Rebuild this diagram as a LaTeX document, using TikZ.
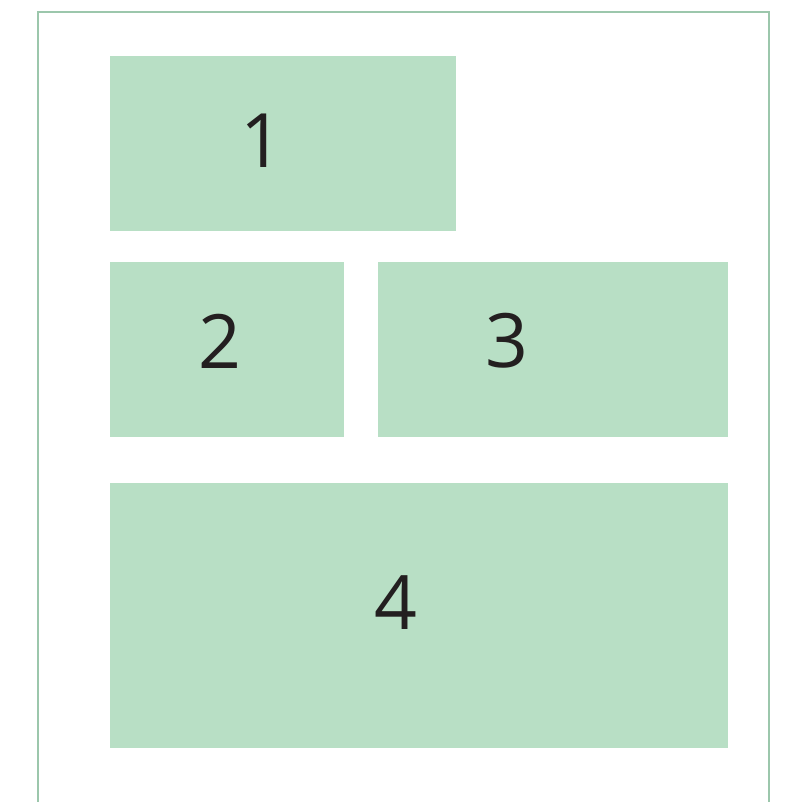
\documentclass[tikz,border=0pt]{standalone}
\usepackage{fontspec}
\setmainfont{Open Sans}
\usetikzlibrary{positioning}

\definecolor{panelgreen}{HTML}{B8DFC5}
\definecolor{framegreen}{HTML}{9CC7AC}
\definecolor{digitgray}{HTML}{231F20}

\begin{document}
\begin{tikzpicture}[
    x=1pt, y=-1pt,
    % Styling for the layout panels
    panel/.style={rectangle, anchor=north west, inner sep=0pt, fill=panelgreen, draw=none},
    digit/.style={text=digitgray, inner sep=0pt, font=\fontsize{75}{80}\selectfont},
    frame/.style={draw=framegreen, line width=2.5pt}
]
    \useasboundingbox (0,0) rectangle (798,802);

    % Outer frame, open at the bottom
    \draw[frame] (38,805) -- (38,12) -- (769,12) -- (769,805);

    % Panels
    \node[panel, minimum width=346pt, minimum height=175pt] (P1) at (110,56)  {};
    \node[panel, minimum width=234pt, minimum height=175pt] (P2) at (110,262) {};
    \node[panel, minimum width=350pt, minimum height=175pt] (P3) at (378,262) {};
    \node[panel, minimum width=618pt, minimum height=265pt] (P4) at (110,483) {};

    % Panel numbers
    \node[digit] (N1) at (262,141) {1};
    \node[digit] (N2) at (220,341) {2};
    \node[digit] (N3) at (507,341) {3};
    \node[digit] (N4) at (396,603) {4};

\end{tikzpicture}
\end{document}
